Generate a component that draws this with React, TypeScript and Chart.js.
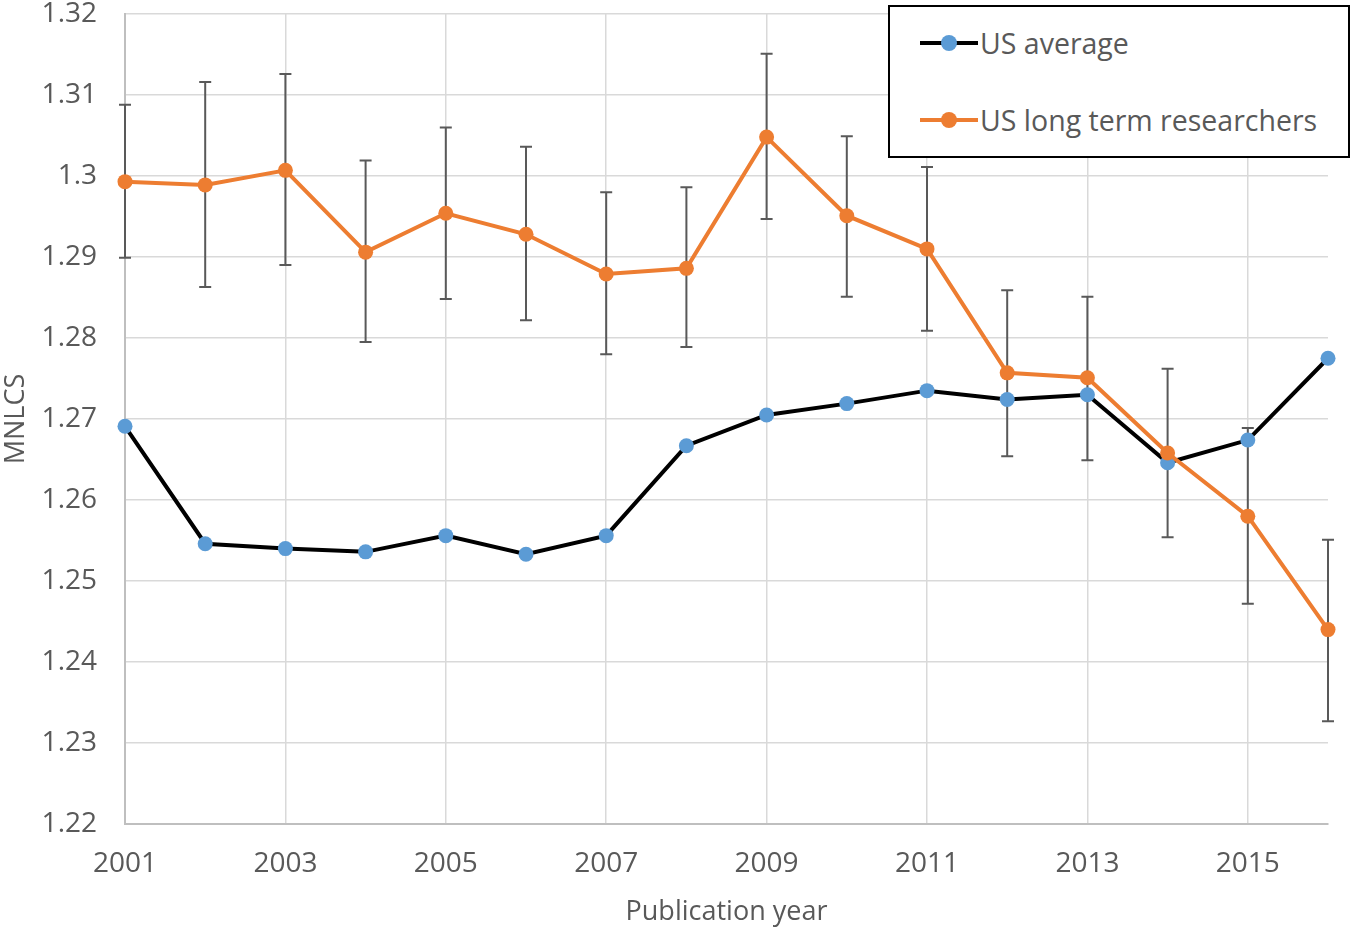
import React, { useEffect, useRef } from "react";
import { Chart, registerables } from "chart.js";

Chart.register(...registerables);

const years = [2001, 2002, 2003, 2004, 2005, 2006, 2007, 2008, 2009, 2010, 2011, 2012, 2013, 2014, 2015, 2016];
const usAverage = [1.2691, 1.2546, 1.2540, 1.2536, 1.2556, 1.2533, 1.2556, 1.2667, 1.2705, 1.2719, 1.2735, 1.2724, 1.2730, 1.2646, 1.2674, 1.2775];
const longTerm = [1.2993, 1.2989, 1.3007, 1.2906, 1.2954, 1.2928, 1.2879, 1.2886, 1.3048, 1.2951, 1.2910, 1.2757, 1.2751, 1.2658, 1.2580, 1.2440];
const longTermUpper = [1.3088, 1.3116, 1.3126, 1.3019, 1.3060, 1.3036, 1.2980, 1.2986, 1.3151, 1.3049, 1.3011, 1.2859, 1.2851, 1.2762, 1.2689, 1.2551];
const longTermLower = [1.2899, 1.2863, 1.2890, 1.2795, 1.2848, 1.2822, 1.2780, 1.2789, 1.2947, 1.2851, 1.2809, 1.2654, 1.2649, 1.2554, 1.2472, 1.2327];
const xTicks = [2001, 2003, 2005, 2007, 2009, 2011, 2013, 2015];
const yTicks = [1.22, 1.23, 1.24, 1.25, 1.26, 1.27, 1.28, 1.29, 1.3, 1.31, 1.32];
const seriesNames = ["US average", "US long term researchers"];

const FONT = "'Open Sans', sans-serif";
const TEXT = "#595959";

const errorBarPlugin = {
  id: "errorBars",
  beforeDatasetsDraw(chart: any) {
    const { ctx } = chart;
    const xs = chart.scales.x;
    const ys = chart.scales.y;
    ctx.save();
    ctx.strokeStyle = "#595959";
    ctx.lineWidth = 2;
    const cap = 6;
    years.forEach((yr, i) => {
      const x = xs.getPixelForValue(yr);
      const yt = ys.getPixelForValue(longTermUpper[i]);
      const yb = ys.getPixelForValue(longTermLower[i]);
      ctx.beginPath();
      ctx.moveTo(x, yt);
      ctx.lineTo(x, yb);
      ctx.moveTo(x - cap, yt);
      ctx.lineTo(x + cap, yt);
      ctx.moveTo(x - cap, yb);
      ctx.lineTo(x + cap, yb);
      ctx.stroke();
    });
    ctx.restore();
  },
};

export default function App() {
  const ref = useRef<HTMLCanvasElement | null>(null);

  useEffect(() => {
    if (!ref.current) return;
    const chart = new Chart(ref.current, {
      type: "line",
      data: {
        datasets: [
          {
            label: seriesNames[0],
            data: years.map((x, i) => ({ x, y: usAverage[i] })),
            borderColor: "#000000",
            backgroundColor: "#5b9bd5",
            pointBackgroundColor: "#5b9bd5",
            pointBorderColor: "#5b9bd5",
            borderWidth: 4,
            pointRadius: 7.5,
            pointBorderWidth: 0,
            tension: 0,
            clip: false,
            order: 1,
          },
          {
            label: seriesNames[1],
            data: years.map((x, i) => ({ x, y: longTerm[i] })),
            borderColor: "#ed7d31",
            backgroundColor: "#ed7d31",
            pointBackgroundColor: "#ed7d31",
            pointBorderColor: "#ed7d31",
            borderWidth: 4,
            pointRadius: 7.5,
            pointBorderWidth: 0,
            tension: 0,
            clip: false,
            order: 0,
          },
        ],
      },
      options: {
        animation: false,
        responsive: true,
        maintainAspectRatio: false,
        layout: { padding: { top: 14, right: 25, left: 0, bottom: 0 } },
        plugins: {
          legend: { display: false },
          tooltip: { enabled: false },
        },
        scales: {
          x: {
            type: "linear",
            min: 2001,
            max: 2016,
            afterBuildTicks: (s: any) => {
              s.ticks = xTicks.map((v) => ({ value: v }));
            },
            afterFit: (s: any) => {
              s.height = 105;
              s.paddingLeft = 0;
              s.paddingRight = 0;
            },
            grid: { color: "#d9d9d9", lineWidth: 1.5, drawTicks: false },
            border: { color: "#bfbfbf", width: 2 },
            ticks: {
              color: TEXT,
              font: { family: FONT, size: 28 },
              padding: 23,
              maxRotation: 0,
              callback: (v: any) => String(v),
            },
            title: {
              display: true,
              text: "Publication year",
              color: TEXT,
              font: { family: FONT, size: 27 },
              padding: { top: 0, bottom: 0 },
            },
          },
          y: {
            type: "linear",
            min: 1.22,
            max: 1.32,
            afterBuildTicks: (s: any) => {
              s.ticks = yTicks.map((v) => ({ value: v }));
            },
            afterFit: (s: any) => {
              s.width = 125;
              s.paddingTop = 0;
              s.paddingBottom = 0;
            },
            grid: { color: "#d9d9d9", lineWidth: 1.5, drawTicks: false },
            border: { color: "#bfbfbf", width: 2 },
            ticks: {
              color: TEXT,
              font: { family: FONT, size: 28 },
              padding: 28,
              callback: (v: any) => String(Number(Number(v).toFixed(2))),
            },
            title: {
              display: true,
              text: "MNLCS",
              color: TEXT,
              font: { family: FONT, size: 27 },
              padding: { top: 0, bottom: 0 },
            },
          },
        },
      },
      plugins: [errorBarPlugin],
    } as any);
    return () => chart.destroy();
  }, []);

  const legendItem = (line: string, dot: string, text: string, top: number) => (
    <div style={{ position: "absolute", left: 30, top, display: "flex", alignItems: "center", height: 40 }}>
      <div style={{ position: "relative", width: 58, height: 40 }}>
        <div style={{ position: "absolute", left: 0, right: 0, top: 18, height: 4, background: line }} />
        <div style={{ position: "absolute", left: 21, top: 12, width: 16, height: 16, borderRadius: 8, background: dot }} />
      </div>
      <span style={{ fontFamily: FONT, fontSize: 28.5, color: TEXT, marginLeft: 2, whiteSpace: "nowrap", lineHeight: "40px" }}>{text}</span>
    </div>
  );

  return (
    <div style={{ position: "fixed", left: 0, top: 0, width: 1353, height: 929, background: "#fff" }}>
      <canvas ref={ref} style={{ width: 1353, height: 929 }} />
      <div
        style={{
          position: "absolute",
          left: 888,
          top: 5,
          width: 458,
          height: 149,
          border: "2px solid #000",
          background: "#fff",
        }}
      >
        {legendItem("#000000", "#5b9bd5", seriesNames[0], 16)}
        {legendItem("#ed7d31", "#ed7d31", seriesNames[1], 93)}
      </div>
    </div>
  );
}
